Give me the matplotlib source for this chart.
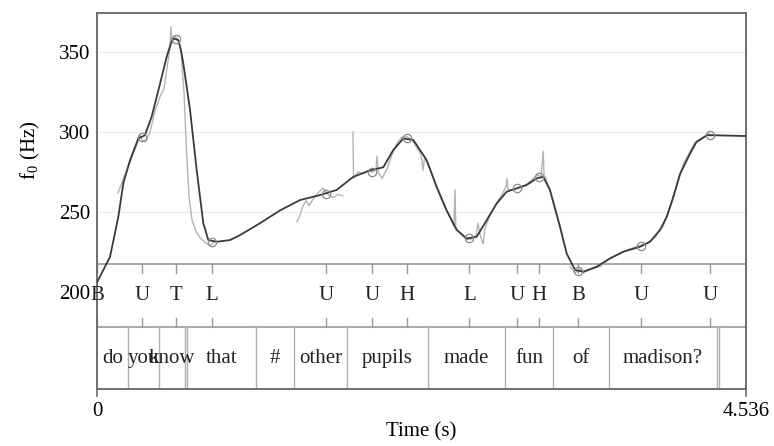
import matplotlib
matplotlib.use("Agg")
import matplotlib.pyplot as plt
import matplotlib.transforms as mtransforms
import numpy as np

plt.rcParams['font.family'] = ['Liberation Serif', 'DejaVu Serif']
plt.rcParams['mathtext.fontset'] = 'custom'
plt.rcParams['mathtext.rm'] = 'Liberation Serif'
plt.rcParams['mathtext.it'] = 'Liberation Serif:italic'

# ---------------- data ----------------
duration = 4.536

# smoothed (modelled) f0 contour
smooth_t = [0.000, 0.091, 0.149, 0.184, 0.231, 0.289, 0.335, 0.382, 0.440, 0.487,
            0.515, 0.533, 0.568, 0.585, 0.603, 0.650, 0.697, 0.743, 0.778, 0.837, 0.930, 1.000,
            1.139, 1.279, 1.419, 1.559, 1.675, 1.791, 1.908, 2.001, 2.071, 2.141,
            2.211, 2.304, 2.374, 2.444, 2.514, 2.584, 2.654, 2.724, 2.794, 2.863,
            2.933, 3.003, 3.073, 3.119, 3.166, 3.236, 3.283, 3.341, 3.399, 3.492,
            3.585, 3.678, 3.795, 3.865, 3.935, 3.982, 4.029, 4.076, 4.146, 4.191,
            4.263, 4.307, 4.536]
smooth_f = [206.0, 222.0, 247.0, 268.0, 282.5, 296.0, 298.0, 309.6, 330.0, 347.0,
            355.0, 358.5, 357.5, 352.0, 343.0, 314.0, 276.0, 243.0, 232.5, 231.4, 232.5, 235.6,
            243.0, 251.0, 257.5, 260.6, 263.8, 272.0, 276.0, 278.0, 288.8, 296.0,
            295.0, 282.5, 265.8, 251.0, 238.8, 233.5, 234.6, 245.0, 255.4, 262.7,
            264.8, 266.9, 271.0, 272.0, 263.8, 240.8, 224.0, 213.8, 212.7, 215.8,
            221.0, 225.2, 228.3, 231.4, 238.8, 247.0, 259.6, 274.0, 286.7, 294.0,
            298.0, 298.0, 297.5]

# raw f0 track, in voiced stretches
raw1_t = [0.147, 0.189, 0.231, 0.273, 0.301, 0.315, 0.342, 0.370, 0.405, 0.440,
          0.468, 0.489, 0.510, 0.517, 0.524, 0.545, 0.566, 0.587, 0.608, 0.627,
          0.643, 0.664, 0.692, 0.720, 0.755, 0.790, 0.818]
raw1_f = [262, 272, 281, 291, 298, 295, 294, 300, 313, 322,
          327, 340, 352, 366, 356, 360, 358, 350, 325, 285,
          260, 245, 238, 234, 231, 229, 231]

raw2_t = [1.398, 1.419, 1.440, 1.461, 1.482, 1.510, 1.545, 1.580, 1.614, 1.649,
          1.684, 1.719]
raw2_f = [244, 248, 254, 257, 254, 258, 262, 265, 261, 259, 261, 260]

raw3_t = [1.789, 1.793, 1.824, 1.859, 1.894, 1.929, 1.950, 1.957, 1.964, 1.992,
          2.027, 2.062, 2.097, 2.132, 2.167, 2.202, 2.237, 2.265, 2.279, 2.289,
          2.327, 2.369, 2.411, 2.453, 2.495, 2.502, 2.508, 2.544, 2.579, 2.614,
          2.649, 2.663, 2.677, 2.698, 2.712, 2.747, 2.789, 2.831, 2.859, 2.866,
          2.873, 2.907, 2.942, 2.977, 3.012, 3.047, 3.082, 3.103, 3.119, 3.124,
          3.138, 3.166, 3.201, 3.236, 3.264]
raw3_f = [300, 271, 275, 274, 276, 275, 277, 285, 275, 271,
          277, 286, 293, 297, 297, 295, 290, 286, 276, 284,
          277, 266, 257, 249, 241, 264, 240, 236, 233, 233,
          235, 243, 236, 230, 240, 248, 255, 261, 266, 271,
          264, 264, 265, 266, 268, 271, 273, 272, 288, 273,
          271, 263, 252, 241, 230]

raw4_t = [3.306, 3.341, 3.376, 3.397, 3.446, 3.516, 3.585, 3.655, 3.725, 3.795,
          3.851, 3.900, 3.935, 3.956, 3.984, 4.005, 4.033, 4.061, 4.103, 4.146,
          4.174, 4.202, 4.236, 4.271, 4.306]
raw4_f = [216, 212, 214, 212, 214, 216, 221, 224, 227, 229,
          231, 234, 239, 241, 248, 253, 262, 270, 281, 288,
          293, 294, 296, 299, 298]

# tone tier
tone_labels = ['B', 'U', 'T', 'L', 'U', 'U', 'H', 'L', 'U', 'H', 'B', 'U', 'U']
tone_times = [0.000, 0.312, 0.550, 0.802, 1.600, 1.924, 2.164, 2.602, 2.933,
              3.087, 3.361, 3.801, 4.284]
target_f = [None, 297, 358, 231, 261, 275, 296, 233.5, 265, 272, 213, 228.5, 298]

# word tier
word_bounds = [0.0, 0.214, 0.435, 0.617, 0.631, 1.109, 1.377, 1.745, 2.315,
               2.851, 3.187, 3.578, 4.331, 4.347, 4.536]
word_labels = ['do', 'you', 'know', '', 'that', '#', 'other', 'pupils', 'made',
               'fun', 'of', 'madison?', '', '']

yticks = [200, 250, 300, 350]
xticks = [0, duration]
xticklabels = ['0', '4.536']

# ---------------- figure ----------------
W, H = 774, 446
fig = plt.figure(figsize=(W / 100, H / 100), dpi=100)
ax = fig.add_axes([97 / W, 1 - 389 / H, (746 - 97) / W, (389 - 13) / H])

ax.set_xlim(0, duration)
ax.set_ylim(139.4, 374.4)

frame_c = '#6e6e6e'
line_c = '#9a9a9a'
for sp in ax.spines.values():
    sp.set_color(frame_c)
    sp.set_linewidth(1.4)

# faint grid lines in pitch panel
for v in yticks[1:]:
    ax.axhline(v, color='#eeeeee', lw=1.0, zorder=0)

fs = 15
ax.set_yticks(yticks)
ax.set_yticklabels([str(v) for v in yticks], fontsize=fs)
ax.tick_params(axis='y', length=0, pad=5)
ax.set_xticks(xticks)
ax.set_xticklabels(xticklabels, fontsize=fs)
ax.tick_params(axis='x', length=6, width=1.2, color=frame_c, pad=3, direction='out')

# tiers
blend = mtransforms.blended_transform_factory(ax.transData, ax.transAxes)
tier1_top = 0.3324
tier2_top = 0.1649
for yy in (tier1_top, tier2_top):
    ax.plot([0, 1], [yy, yy], transform=ax.transAxes, color=line_c, lw=1.2, zorder=2)

tick_len = 0.024
for t, lab in zip(tone_times, tone_labels):
    ax.plot([t, t], [tier1_top, tier1_top - tick_len], transform=blend, color=line_c, lw=1.0)
    ax.plot([t, t], [tier2_top, tier2_top + tick_len], transform=blend, color=line_c, lw=1.0)
    ax.text(t, 0.2487, lab, transform=blend, ha='center', va='center', fontsize=fs, color='#222222')

for b in word_bounds[1:-1]:
    ax.plot([b, b], [0, tier2_top], transform=blend, color='#b0b0b0', lw=1.0)
for i, w in enumerate(word_labels):
    if w:
        c = 0.5 * (word_bounds[i] + word_bounds[i + 1])
        ax.text(c, 0.0824, w, transform=blend, ha='center', va='center', fontsize=fs, color='#222222')

# curves
for tt, ff in ((raw1_t, raw1_f), (raw2_t, raw2_f), (raw3_t, raw3_f), (raw4_t, raw4_f)):
    ax.plot(tt, ff, color='#b4b4b4', lw=1.0, zorder=3, solid_joinstyle='round')
ax.plot(smooth_t, smooth_f, color='#3a3a3a', lw=1.3, zorder=4, solid_joinstyle='round')
tt = [t for t, f in zip(tone_times, target_f) if f is not None]
ff = [f for f in target_f if f is not None]
ax.plot(tt, ff, 'o', ms=6, mfc='none', mec='#8a8a8a', mew=0.9, zorder=5)

ax.set_xlabel('Time (s)', fontsize=fs, labelpad=1)
fig.text(30 / W, 1 - 150 / H, 'f$_0$ (Hz)', rotation=90, ha='center', va='center', fontsize=fs)

fig.savefig('out.png', dpi=100)
